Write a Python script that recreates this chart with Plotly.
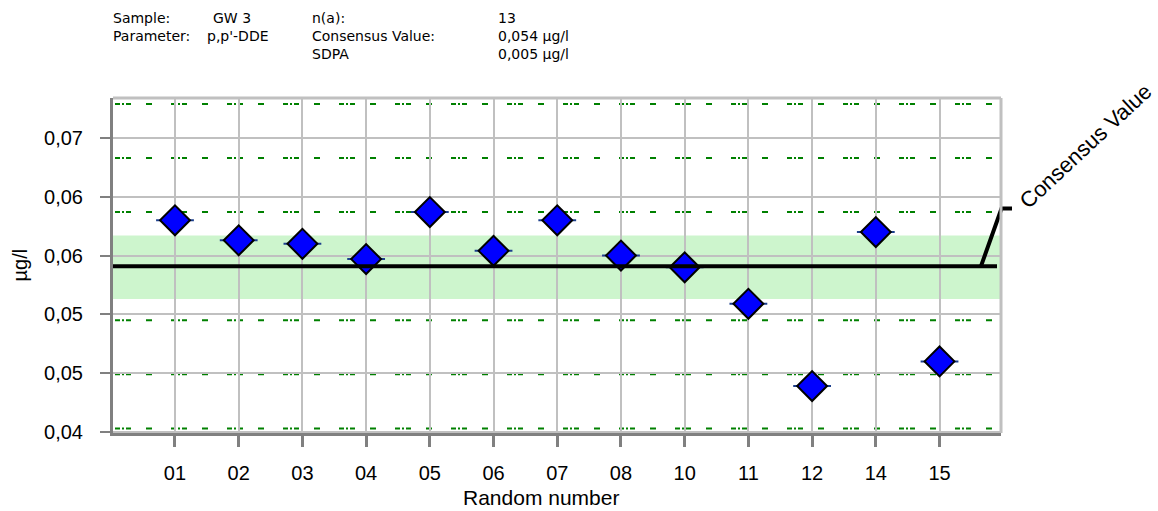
import plotly.graph_objects as go

# ---------------- data ----------------
categories = ["01", "02", "03", "04", "05", "06", "07", "08", "10", "11", "12", "14", "15"]
values = [0.0580, 0.0563, 0.0560, 0.0547, 0.0587, 0.0554, 0.0580, 0.0550, 0.0540, 0.0509, 0.0439, 0.0570, 0.0460]
consensus_value = 0.0541
tolerance_band = [0.0513, 0.0567]
zscore_lines = [0.0403, 0.0449, 0.0495, 0.0587, 0.0633, 0.0679]
y_tickvals = [0.040, 0.045, 0.050, 0.055, 0.060, 0.065]
y_ticktext = ["0,04", "0,05", "0,05", "0,06", "0,06", "0,07"]
header_rows = [
    ("Sample:", "GW 3", "n(a):", "13"),
    ("Parameter:", "p,p'-DDE", "Consensus Value:", "0,054 µg/l"),
    ("", "", "SDPA", "0,005 µg/l"),
]

# ---------------- layout geometry ----------------
W, H = 1158, 511
ML, MR, MT, MB = 113, 157, 98, 78
PW, PH = W - ML - MR, H - MT - MB
y_range = [0.03991, 0.06840]
x_range = [-0.973, 12.965]


def px_x(px):
    return (px - ML) / PW


def px_y(py):
    return (H - MB - py) / PH


AXIS_FONT = "Liberation Sans, Arial, sans-serif"
HEAD_FONT = "DejaVu Sans, sans-serif"

fig = go.Figure()

# whiskers behind the diamonds
fig.add_trace(go.Scatter(
    x=categories, y=values, mode="markers",
    marker=dict(symbol="line-ew", size=27, line=dict(color="#1c3f8c", width=2)),
    hoverinfo="skip", showlegend=False,
))
fig.add_trace(go.Scatter(
    x=categories, y=values, mode="markers",
    marker=dict(symbol="diamond", size=23, color="#0000ff", line=dict(color="black", width=2)),
    showlegend=False,
))

shapes = []
# tolerance band
shapes.append(dict(type="rect", xref="paper", yref="y", x0=0, x1=1,
                   y0=tolerance_band[0], y1=tolerance_band[1],
                   fillcolor="#cdf5cd", line=dict(width=0), layer="below"))
# z-score dashed lines
for v in zscore_lines:
    shapes.append(dict(type="line", xref="paper", yref="y", x0=px_x(115), x1=1, y0=v, y1=v,
                       line=dict(color="#008000", width=2,
                                 dash="5px,2px,2px,2px,5px,15px,6px,19px"),
                       layer="between"))
# consensus line
shapes.append(dict(type="line", xref="paper", yref="y", x0=0, x1=px_x(997), y0=consensus_value,
                   y1=consensus_value, line=dict(color="black", width=4), layer="above"))
# leader to label
lead_y = 0.0590
shapes.append(dict(type="path", xref="paper", yref="y",
                   path=f"M {px_x(981)},{consensus_value} L {px_x(1001.5)},{lead_y} L {px_x(1012)},{lead_y}",
                   line=dict(color="black", width=4), layer="above"))
# light frame top / right
shapes.append(dict(type="line", xref="paper", yref="paper", x0=0, x1=1, y0=1, y1=1,
                   line=dict(color="#c0c0c0", width=3), layer="above"))
shapes.append(dict(type="line", xref="paper", yref="paper", x0=1, x1=1, y0=0, y1=1,
                   line=dict(color="#c0c0c0", width=3), layer="above"))

annotations = []
col_px = [113, 213, 312, 498]
row_py = [18.0, 36.2, 54.4]
for r, row in enumerate(header_rows):
    for c, txt in enumerate(row):
        if not txt:
            continue
        x = col_px[c]
        if c == 1 and r == 1:
            x = 207
        annotations.append(dict(text=txt, xref="paper", yref="paper", x=px_x(x - 1), y=px_y(row_py[r]),
                                xanchor="left", yanchor="middle", showarrow=False, borderpad=0,
                                font=dict(family=HEAD_FONT, size=14, color="black")))
annotations.append(dict(text="Consensus Value", xref="paper", yref="paper",
                        x=px_x(1085), y=px_y(146), xanchor="center", yanchor="middle",
                        textangle=-43, showarrow=False,
                        font=dict(family=AXIS_FONT, size=22, color="black")))
annotations.append(dict(text="Random number", xref="paper", yref="paper",
                        x=px_x(541), y=px_y(498), xanchor="center", yanchor="middle",
                        showarrow=False, font=dict(family=AXIS_FONT, size=21, color="black")))
annotations.append(dict(text="µg/l", xref="paper", yref="paper",
                        x=px_x(19), y=0.5, xanchor="center", yanchor="middle", textangle=-90,
                        showarrow=False, font=dict(family=AXIS_FONT, size=20, color="black")))

fig.update_layout(
    width=W, height=H,
    margin=dict(l=ML, r=MR, t=MT, b=MB, pad=0),
    plot_bgcolor="white", paper_bgcolor="white",
    shapes=shapes, annotations=annotations,
    xaxis=dict(type="category", range=x_range, showgrid=True, gridcolor="#c0c0c0", gridwidth=2,
               showline=True, linecolor="#808080", linewidth=3,
               ticks="outside", ticklen=11, tickwidth=3, tickcolor="#808080",
               tickfont=dict(family=AXIS_FONT, size=20, color="black"),
               ticklabelstandoff=9, zeroline=False),
    yaxis=dict(range=y_range, tickvals=y_tickvals, ticktext=y_ticktext,
               showgrid=True, gridcolor="#c0c0c0", gridwidth=2,
               showline=True, linecolor="#808080", linewidth=3,
               ticks="outside", ticklen=10, tickwidth=2, tickcolor="#808080",
               tickfont=dict(family=AXIS_FONT, size=20, color="black"),
               ticklabelstandoff=13, zeroline=False),
)

fig.write_html("out.html", config={"displayModeBar": False},
               post_script="document.body.style.margin='0';")
